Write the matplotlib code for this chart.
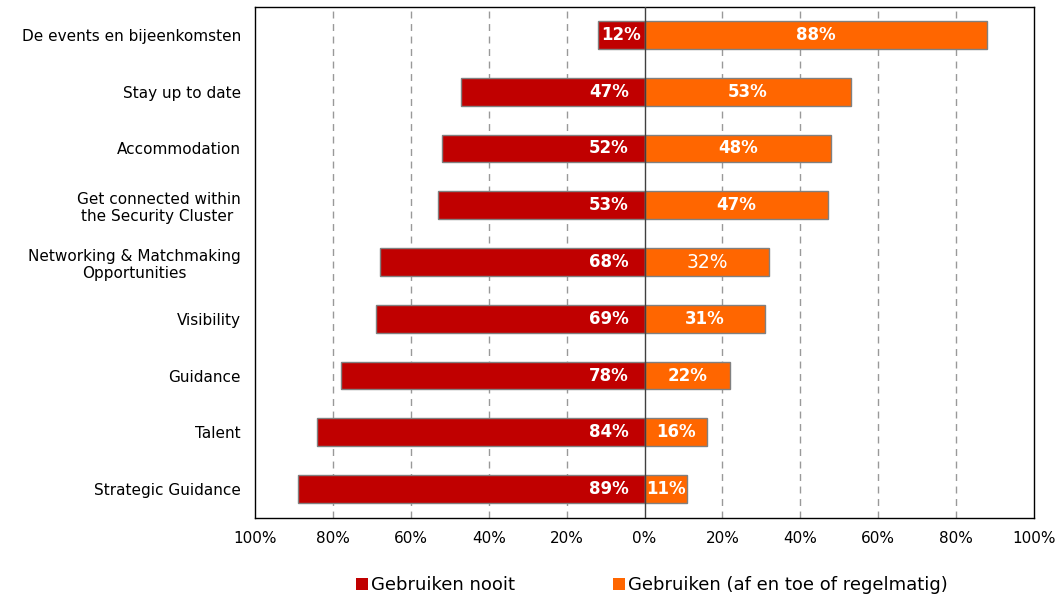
import matplotlib
matplotlib.use("Agg")
import matplotlib.pyplot as plt
from matplotlib.patches import Patch

categories = ["De events en bijeenkomsten", "Stay up to date", "Accommodation",
              "Get connected within\nthe Security Cluster ", "Networking & Matchmaking\nOpportunities",
              "Visibility", "Guidance", "Talent", "Strategic Guidance"]
nooit = [12, 47, 52, 53, 68, 69, 78, 84, 89]
gebruiken = [88, 53, 48, 47, 32, 31, 22, 16, 11]
tick_vals = [-100, -80, -60, -40, -20, 0, 20, 40, 60, 80, 100]
tick_labels = ["100%", "80%", "60%", "40%", "20%", "0%", "20%", "40%", "60%", "80%", "100%"]
legend_labels = ["Gebruiken nooit", "Gebruiken (af en toe of regelmatig)"]

RED = "#C00000"
ORANGE = "#FF6600"

plt.rcParams['font.family'] = ['DejaVu Sans']
fig = plt.figure(figsize=(10.6, 6), dpi=100)
ax = fig.add_axes([255/1060, 1-517.5/600, (1034-255)/1060, (517.5-6.5)/600])

y = list(range(len(categories)))
ax.barh(y, [-v for v in nooit], height=0.49, color=RED, edgecolor="#808080", linewidth=1, zorder=3)
ax.barh(y, gebruiken, height=0.49, color=ORANGE, edgecolor="#808080", linewidth=1, zorder=3)

for i, (a, b) in enumerate(zip(nooit, gebruiken)):
    if a >= 20:
        ax.text(-4, i, f"{a}%", ha="right", va="center", color="white", fontsize=12, fontweight="bold", zorder=5)
    else:
        ax.text(-a/2, i, f"{a}%", ha="center", va="center", color="white", fontsize=12, fontweight="bold", zorder=5)
    if categories[i].startswith("Networking"):
        ax.text(b/2, i, f"{b}%", ha="center", va="center", color="white", fontsize=13.5, zorder=5)
    else:
        ax.text(b/2, i, f"{b}%", ha="center", va="center", color="white", fontsize=12, fontweight="bold", zorder=5)

ax.set_xlim(-100, 100)
ax.set_ylim(len(categories)-0.5, -0.5)
ax.set_xticks(tick_vals)
ax.set_xticklabels(tick_labels, fontsize=11)
ax.set_yticks(y)
ax.set_yticklabels(categories, fontsize=11, multialignment="center")
ax.tick_params(axis="x", length=0, pad=10)
ax.tick_params(axis="y", length=0, pad=10)

for t in tick_vals[1:-1]:
    if t == 0:
        ax.axvline(0, color="#404040", linewidth=1, zorder=4)
    else:
        ax.axvline(t, color="#999999", linewidth=1, linestyle=(0, (5, 4)), zorder=1)

for s in ax.spines.values():
    s.set_color("black")
    s.set_linewidth(1)

handles = [Patch(facecolor=RED, edgecolor="none"), Patch(facecolor=ORANGE, edgecolor="none")]
fig.legend(handles, legend_labels, loc="center", bbox_to_anchor=(652/1060, 1-585/600), ncol=2,
           frameon=False, fontsize=13, handlelength=0.65, handleheight=0.65, handletextpad=0.2,
           columnspacing=5.4)

fig.savefig("out.png", dpi=100)
